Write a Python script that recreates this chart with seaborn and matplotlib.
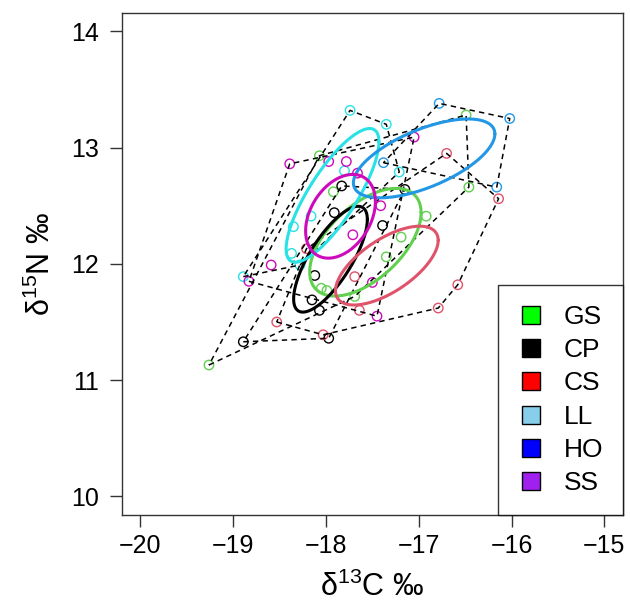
import numpy as np
import pandas as pd
import matplotlib
matplotlib.use("Agg")
import matplotlib.pyplot as plt
from matplotlib.lines import Line2D
import seaborn as sns

# ---------------- data ----------------
groups = ["GS", "CP", "CS", "LL", "HO", "SS"]

gs_x = [-19.26, -18.07, -17.92, -16.49, -16.46, -16.92, -17.19, -17.35, -17.69, -18.05, -17.99]
gs_y = [11.13, 12.93, 12.62, 13.28, 12.66, 12.41, 12.23, 12.06, 11.72, 11.79, 11.77]

cp_x = [-18.89, -18.07, -18.15, -18.12, -17.97, -17.83, -17.91, -17.15, -17.39]
cp_y = [11.33, 11.60, 11.69, 11.90, 11.36, 12.67, 12.44, 12.64, 12.33]

cs_x = [-18.53, -18.03, -17.69, -17.64, -16.79, -16.58, -16.70, -16.14, -18.21]
cs_y = [11.50, 11.39, 11.89, 11.60, 11.62, 11.82, 12.95, 12.56, 12.13]

ll_x = [-17.74, -17.35, -17.80, -17.21, -18.16, -18.35, -18.37, -18.28, -18.89]
ll_y = [13.32, 13.20, 12.80, 12.79, 12.41, 12.32, 12.09, 11.99, 11.89]

ho_x = [-16.78, -16.02, -17.38, -16.16]
ho_y = [13.38, 13.25, 12.87, 12.66]

ss_x = [-18.39, -17.97, -17.78, -17.05, -17.66, -17.41, -17.71, -18.59, -18.83, -17.50, -17.45]
ss_y = [12.86, 12.88, 12.88, 13.09, 12.78, 12.50, 12.25, 11.99, 11.85, 11.84, 11.55]

# standard ellipse parameters per group (mean, sd, correlation)
sea_mx = [-17.575, -17.951, -17.344, -17.929, -16.942, -17.843]
sea_my = [12.186, 12.040, 11.985, 12.589, 12.907, 12.409]
sea_sx = [0.600, 0.397, 0.553, 0.500, 0.762, 0.376]
sea_sy = [0.463, 0.455, 0.339, 0.575, 0.339, 0.360]
sea_rho = [0.55, 0.75, 0.64, 0.80, 0.62, 0.35]

# colours
point_colors = ["#61D04F", "#000000", "#DF536B", "#28E2E5", "#2297E6", "#CD0BBC"]
legend_colors = ["#00FF00", "#000000", "#FF0000", "#87CEEB", "#0000FF", "#A020F0"]

x_ticks = [-20, -19, -18, -17, -16, -15]
y_ticks = [10, 11, 12, 13, 14]

# ---------------- build table ----------------
xs = [gs_x, cp_x, cs_x, ll_x, ho_x, ss_x]
ys = [gs_y, cp_y, cs_y, ll_y, ho_y, ss_y]
df = pd.concat([pd.DataFrame({"x": x, "y": y, "group": g}) for g, x, y in zip(groups, xs, ys)],
               ignore_index=True)

# ---------------- style ----------------
sns.set_style("white")
plt.rcParams["font.family"] = ["Liberation Sans", "DejaVu Sans"]
plt.rcParams["mathtext.fontset"] = "custom"
plt.rcParams["mathtext.rm"] = "Liberation Sans"
plt.rcParams["mathtext.it"] = "Liberation Sans:italic"
plt.rcParams["mathtext.bf"] = "Liberation Sans:bold"
plt.rcParams["text.color"] = "black"
plt.rcParams["axes.labelcolor"] = "black"
plt.rcParams["xtick.color"] = "black"
plt.rcParams["ytick.color"] = "black"

fig = plt.figure(figsize=(6.30, 6.02), dpi=100)
ax = fig.add_axes([121.7 / 630, 1 - 515 / 602, (623 - 121.7) / 630, (515 - 12.7) / 602])

# points
sns.scatterplot(data=df, x="x", y="y", hue="group", hue_order=groups,
                palette=dict(zip(groups, point_colors)), marker="o", s=46,
                linewidth=1.0, legend=False, ax=ax, zorder=2)
for coll in ax.collections:
    fc = coll.get_facecolors()
    coll.set_edgecolors(fc)
    coll.set_facecolor("none")


def convex_hull(px, py):
    pts = sorted(set(zip(px, py)))
    if len(pts) < 3:
        return pts

    def cross(o, a, b):
        return (a[0] - o[0]) * (b[1] - o[1]) - (a[1] - o[1]) * (b[0] - o[0])

    lower, upper = [], []
    for p in pts:
        while len(lower) >= 2 and cross(lower[-2], lower[-1], p) <= 0:
            lower.pop()
        lower.append(p)
    for p in reversed(pts):
        while len(upper) >= 2 and cross(upper[-2], upper[-1], p) <= 0:
            upper.pop()
        upper.append(p)
    return lower[:-1] + upper[:-1]


# hulls
for x, y in zip(xs, ys):
    h = convex_hull(x, y)
    h = h + [h[0]]
    hx, hy = zip(*h)
    ax.plot(hx, hy, color="black", linestyle=(0, (3.5, 2.8)), linewidth=1.1, zorder=3)

# ellipses
t = np.linspace(0, 2 * np.pi, 200)
for mx, my, sx, sy, r, c in zip(sea_mx, sea_my, sea_sx, sea_sy, sea_rho, point_colors):
    cov = np.array([[sx ** 2, r * sx * sy], [r * sx * sy, sy ** 2]])
    L = np.linalg.cholesky(cov)
    e = L @ np.vstack([np.cos(t), np.sin(t)])
    ax.plot(mx + e[0], my + e[1], color=c, linewidth=2.2, zorder=4)

# axes
ax.set_xlim(-20.2, -14.8)
ax.set_ylim(9.84, 14.16)
ax.set_xticks(x_ticks)
ax.set_yticks(y_ticks)
ax.tick_params(direction="out", length=8.5, width=1.0, color="#333333",
               labelsize=18, labelcolor="black", bottom=True, left=True)
ax.tick_params(axis="y", pad=8)
ax.tick_params(axis="x", pad=5)
for sp in ax.spines.values():
    sp.set_color("#333333")
    sp.set_linewidth(1.0)

ax.set_xlabel("δ$^{13}$C ‰", fontsize=22, labelpad=10, color="black")
ax.set_ylabel("δ$^{15}$N ‰", fontsize=22, labelpad=10, color="black")

# legend
handles = [Line2D([], [], linestyle="none", marker="s", markersize=13.5,
                  markerfacecolor=c, markeredgecolor="black", markeredgewidth=1.0)
           for c in legend_colors]
leg = ax.legend(handles, groups, loc="lower right", bbox_to_anchor=(1.0, 0.0),
                borderaxespad=0, fontsize=19, frameon=True, fancybox=False,
                handlelength=1.0, handletextpad=0.75, borderpad=0.75, labelspacing=0.35)
leg.get_frame().set_edgecolor("black")
leg.get_frame().set_linewidth(1.0)
leg.set_zorder(10)
for txt in leg.get_texts():
    txt.set_color("black")

fig.savefig("out.png", dpi=100)
